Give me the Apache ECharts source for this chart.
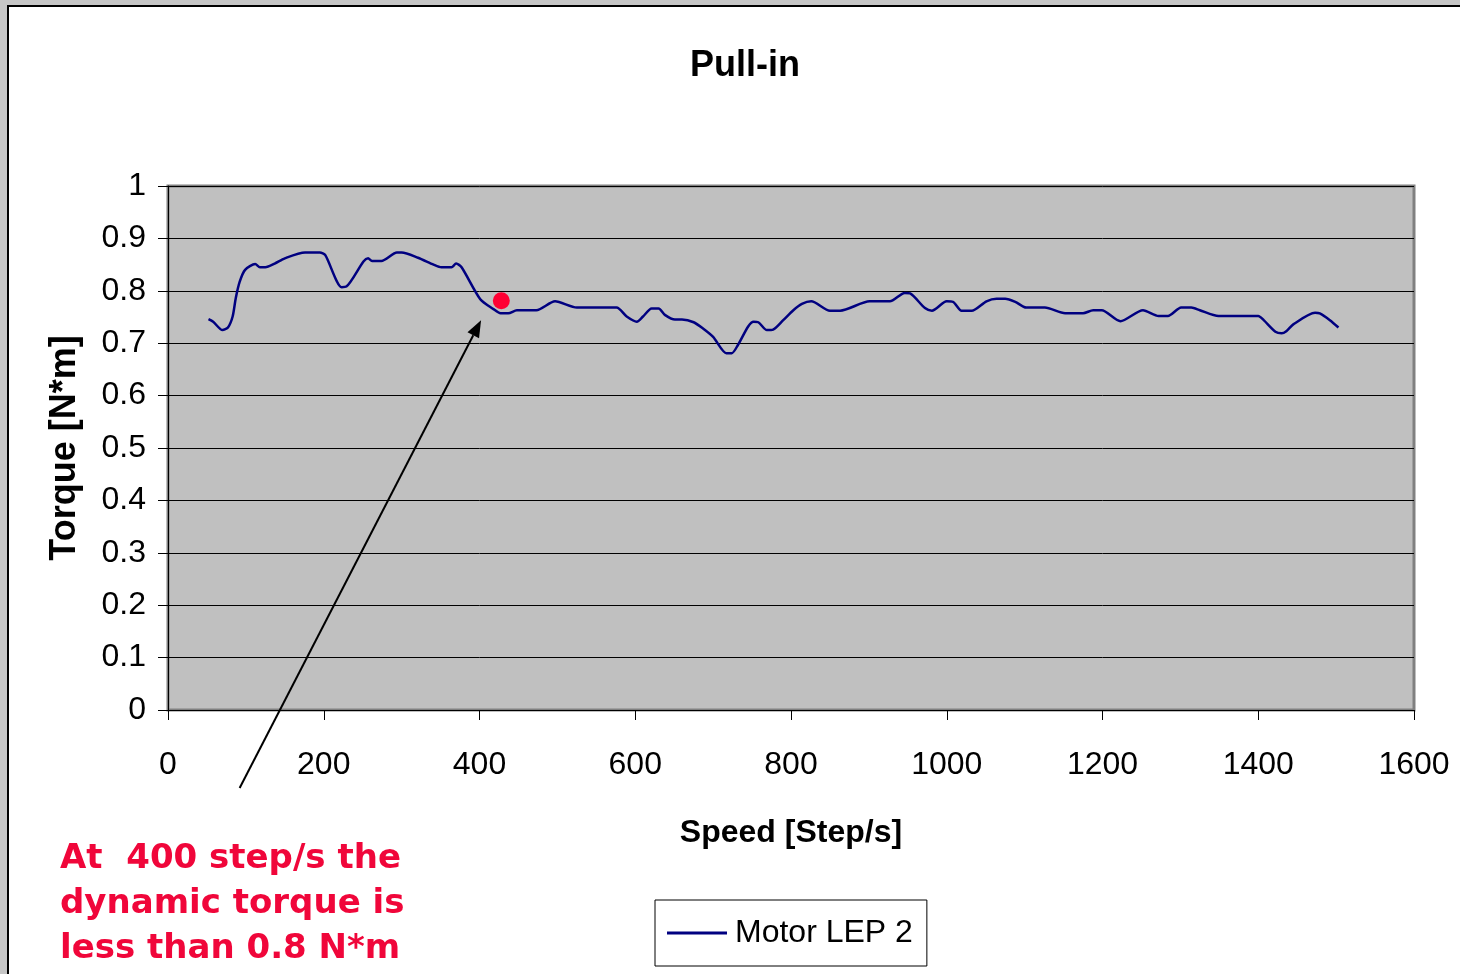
<!DOCTYPE html>
<html>
<head>
<meta charset="utf-8">
<title>Pull-in</title>
<script src="https://cdn.jsdelivr.net/npm/echarts@6/dist/echarts.min.js"></script>
<style>
    html, body { margin: 0; padding: 0; background: #c6c6c6; overflow: hidden; }
    #main {
        position: absolute; left: 7px; top: 5px;
        width: 1453px; height: 969px;
        box-sizing: border-box;
        border-left: 2px solid #000; border-top: 2px solid #000;
        background: #fff;
    }
</style>
</head>
<body>
<div id="main"></div>
<script>
// speed [step/s] and torque [N*m]
var speed = [52, 58, 70, 77, 83, 87, 92, 99, 112, 118, 125, 137, 150, 176, 195, 202,
    223, 229, 251, 257, 262, 274, 294, 300, 321, 341, 351, 364, 370, 377, 401, 418,
    427, 437, 448, 473, 497, 525, 576, 589, 602, 610, 621, 630, 638, 651, 660, 675,
    687, 700, 717, 724, 732, 745, 752, 758, 769, 777, 790, 803, 814, 826, 850, 863,
    901, 927, 946, 953, 972, 981, 1000, 1008, 1019, 1032, 1051, 1064, 1075, 1088,
    1102, 1126, 1152, 1175, 1188, 1199, 1223, 1252, 1272, 1284, 1301, 1314, 1325,
    1349, 1400, 1407, 1422, 1430, 1436, 1445, 1473, 1479, 1492, 1503];
var torque = [0.746, 0.741, 0.725, 0.730, 0.751, 0.786, 0.817, 0.840, 0.851, 0.845,
    0.845, 0.852, 0.862, 0.873, 0.873, 0.868, 0.807, 0.808, 0.856, 0.862, 0.857,
    0.857, 0.873, 0.873, 0.863, 0.850, 0.845, 0.845, 0.852, 0.845, 0.784, 0.765,
    0.757, 0.757, 0.763, 0.763, 0.780, 0.768, 0.768, 0.751, 0.741, 0.751, 0.766,
    0.766, 0.754, 0.745, 0.745, 0.740, 0.728, 0.712, 0.681, 0.681, 0.697, 0.732,
    0.741, 0.740, 0.725, 0.726, 0.744, 0.763, 0.775, 0.780, 0.762, 0.762, 0.780,
    0.780, 0.796, 0.795, 0.767, 0.762, 0.780, 0.779, 0.762, 0.762, 0.780, 0.785,
    0.785, 0.779, 0.768, 0.768, 0.757, 0.757, 0.763, 0.763, 0.742, 0.763, 0.752,
    0.752, 0.768, 0.768, 0.763, 0.752, 0.752, 0.744, 0.722, 0.719, 0.723, 0.736,
    0.758, 0.757, 0.744, 0.730];

// annotation: red marker and arrow (data units)
var markerAt = [428, 0.781];
var arrowFrom = [92, -0.149];
var arrowTo = [402, 0.744];
var noteLines = ['At  400 step/s the', 'dynamic torque is', 'less than 0.8 N*m'];

var seriesName = 'Motor LEP 2';
var lineColor = '#000080';
var noteColor = '#f0063a';

var chart = echarts.init(document.getElementById('main'));

var points = [];
for (var i = 0; i < speed.length; i++) {
    points.push([speed[i], torque[i]]);
}

var option = {
    animation: false,
    backgroundColor: '#fff',
    textStyle: { fontFamily: 'Liberation Sans, Arial, sans-serif' },
    title: {
        text: 'Pull-in',
        left: 676,
        top: 36,
        textStyle: { fontSize: 36, fontWeight: 'bold', color: '#000' }
    },
    grid: {
        left: 159, top: 179, right: 46, bottom: 264,
        show: true,
        backgroundColor: '#c0c0c0',
        borderColor: '#808080',
        borderWidth: 3
    },
    legend: {
        data: [seriesName],
        left: 646,
        top: 893,
        orient: 'horizontal',
        backgroundColor: '#fff',
        borderColor: '#000',
        borderWidth: 1,
        padding: [17, 14, 17, 12],
        icon: 'rect',
        itemWidth: 60,
        itemHeight: 3,
        itemGap: 8,
        textStyle: { fontSize: 32, color: '#000', padding: [0, 0, 0, 3] }
    },
    xAxis: {
        type: 'value',
        min: 0, max: 1600, interval: 200,
        name: 'Speed [Step/s]',
        nameLocation: 'middle',
        nameGap: 107,
        nameTextStyle: { fontSize: 32, fontWeight: 'bold', color: '#000' },
        axisLine: { show: true, lineStyle: { color: '#000', width: 1 } },
        axisTick: { show: true, length: 10, lineStyle: { color: '#000' } },
        axisLabel: {
            fontSize: 32, color: '#000', margin: 39,
            formatter: function (v) { return String(v); }
        },
        splitLine: { show: false }
    },
    yAxis: {
        type: 'value',
        min: 0, max: 1, interval: 0.1,
        name: 'Torque [N*m]',
        nameLocation: 'middle',
        nameGap: 85,
        nameTextStyle: { fontSize: 36, fontWeight: 'bold', color: '#000' },
        axisLine: { show: true, lineStyle: { color: '#000', width: 1 } },
        axisTick: { show: true, length: 10, lineStyle: { color: '#000' } },
        axisLabel: { fontSize: 32, color: '#000', margin: 22 },
        splitLine: { show: true, lineStyle: { color: '#000', width: 1 } }
    },
    series: [{
        name: seriesName,
        type: 'line',
        data: points,
        smooth: 0.25,
        showSymbol: false,
        symbol: 'none',
        itemStyle: { color: lineColor },
        lineStyle: { color: lineColor, width: 2.5 },
        markPoint: {
            symbol: 'circle',
            symbolSize: 17,
            label: { show: false },
            itemStyle: { color: '#ff0033' },
            data: [{ coord: markerAt }]
        }
    }]
};

chart.setOption(option);

// arrow + red note drawn after the axes exist
function drawNote() {
    var p0 = chart.convertToPixel({ gridIndex: 0 }, arrowFrom);
    var p1 = chart.convertToPixel({ gridIndex: 0 }, arrowTo);
    var dx = p1[0] - p0[0], dy = p1[1] - p0[1];
    var len = Math.sqrt(dx * dx + dy * dy);
    var ux = dx / len, uy = dy / len;
    var headLen = 17, headW = 6.5;
    var bx = p1[0] - ux * headLen, by = p1[1] - uy * headLen;

    chart.setOption({
        graphic: [{
            type: 'line',
            shape: { x1: p0[0], y1: p0[1], x2: bx, y2: by },
            style: { stroke: '#000', lineWidth: 2 },
            z: 100
        }, {
            type: 'polygon',
            shape: {
                points: [
                    [p1[0], p1[1]],
                    [bx - uy * headW, by + ux * headW],
                    [bx + uy * headW, by - ux * headW]
                ]
            },
            style: { fill: '#000' },
            z: 100
        }, {
            type: 'text',
            left: 51,
            top: 830,
            style: {
                text: noteLines.join('\n'),
                font: 'bold 34px "DejaVu Sans", Verdana, sans-serif',
                fill: noteColor,
                lineHeight: 45
            },
            z: 100
        }]
    });
}
drawNote();
</script>
</body>
</html>
